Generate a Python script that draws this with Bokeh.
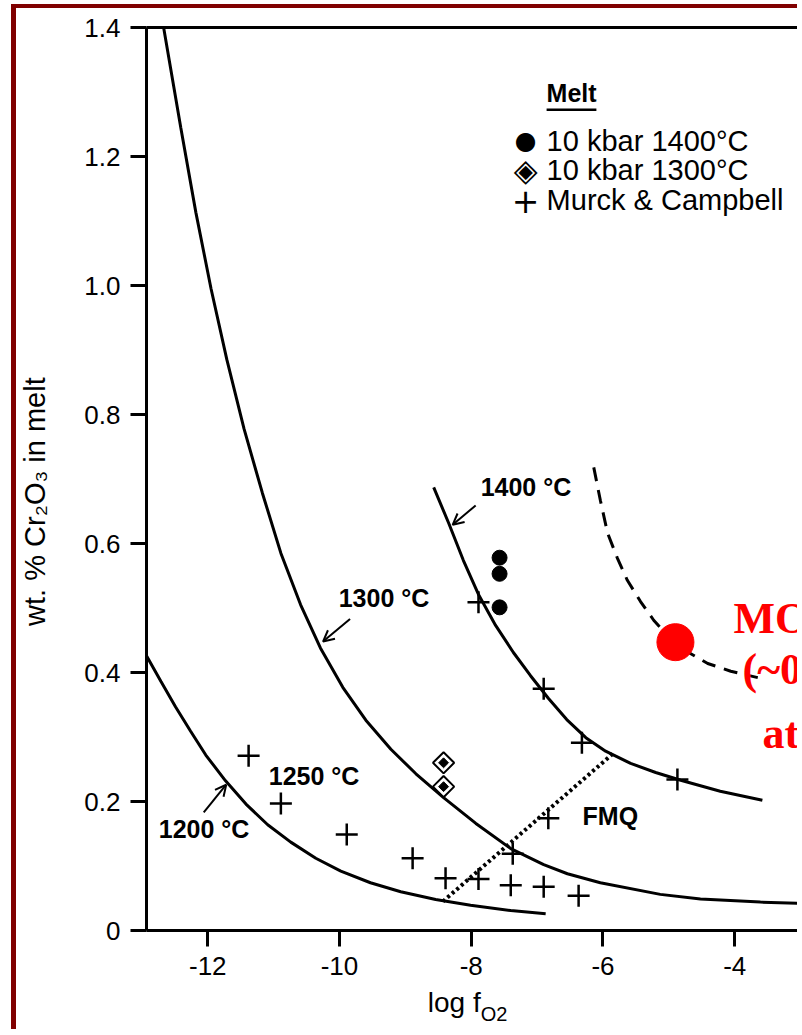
import math
from bokeh.plotting import figure
from bokeh.models import (Range1d, FixedTicker, CustomJSTickFormatter, LinearAxis, Label,
                          Arrow, OpenHead, BoxAnnotation)
from bokeh.embed import file_html
from bokeh.resources import INLINE

# ---------------- data ----------------
x_ticks = [-12, -10, -8, -6, -4]
y_ticks = [0, 0.2, 0.4, 0.6, 0.8, 1.0, 1.2, 1.4]

curve_1200_x = [-12.93, -12.71, -12.49, -12.26, -12.03, -11.73, -11.42, -11.09, -10.74,
                -10.36, -9.98, -9.53, -9.07, -8.54, -8.01, -7.40, -6.87]
curve_1200_y = [0.426, 0.386, 0.347, 0.309, 0.272, 0.232, 0.196, 0.164, 0.137,
                0.112, 0.092, 0.074, 0.060, 0.048, 0.039, 0.031, 0.026]

curve_1300_x = [-12.67, -12.41, -12.18, -11.95, -11.71, -11.45, -11.17, -10.89, -10.59,
                -10.29, -9.95, -9.60, -9.22, -8.84, -8.42, -7.93, -7.40, -6.90, -6.54,
                -6.04, -5.13, -4.52, -3.61, -2.97]
curve_1300_y = [1.400, 1.245, 1.113, 0.995, 0.885, 0.778, 0.678, 0.585, 0.505,
                0.438, 0.377, 0.326, 0.281, 0.243, 0.206, 0.166, 0.127, 0.102, 0.088,
                0.074, 0.056, 0.049, 0.044, 0.042]

curve_1400_x = [-8.57, -8.34, -8.12, -7.89, -7.63, -7.36, -7.10, -6.83, -6.55, -6.26,
                -5.96, -5.58, -5.20, -4.82, -4.22, -3.58]
curve_1400_y = [0.687, 0.631, 0.574, 0.521, 0.473, 0.431, 0.395, 0.360, 0.327, 0.299,
                0.278, 0.259, 0.245, 0.233, 0.216, 0.202]

dashed_x = [-6.14, -6.04, -5.93, -5.78, -5.63, -5.43, -5.23, -5.01, -4.70, -4.41, -4.06, -3.65]
dashed_y = [0.718, 0.667, 0.616, 0.577, 0.543, 0.510, 0.481, 0.456, 0.431, 0.414, 0.402, 0.392]

fmq_x = [-8.43, -5.84]
fmq_y = [0.045, 0.275]

melt1400_x = [-7.57, -7.57, -7.57]
melt1400_y = [0.578, 0.553, 0.501]

melt1300_x = [-8.42, -8.42]
melt1300_y = [0.260, 0.223]

murck_x = [-11.38, -10.89, -9.89, -8.89, -8.39, -7.89, -7.40, -6.90, -6.37, -7.37,
           -6.83, -6.32, -6.90, -7.89, -4.87]
murck_y = [0.271, 0.197, 0.149, 0.112, 0.081, 0.080, 0.070, 0.068, 0.054, 0.119,
           0.174, 0.291, 0.375, 0.509, 0.234]

red_x = [-4.90]
red_y = [0.447]

legend_title = "Melt"
legend_symbols = ["●", "◈", "+"]
legend_labels = ["10 kbar 1400°C", "10 kbar 1300°C", "Murck & Campbell"]

# ---------------- figure ----------------
SANS = "Liberation Sans"
SERIF = "Liberation Serif"
SYM = "'DejaVu Sans', 'Liberation Sans', sans-serif"

p = figure(width=786, height=1025, x_range=Range1d(-12.93, -2.971), y_range=Range1d(0, 1.4),
           output_backend="svg", toolbar_location=None,
           min_border_left=130, min_border_right=0, min_border_top=19, min_border_bottom=103)
p.styles = {"margin-left": "11px", "margin-top": "4px",
            "border-left": "5px solid #800000", "border-top": "4px solid #800000"}
p.xgrid.visible = False
p.ygrid.visible = False
p.outline_line_color = None
p.background_fill_color = "white"
p.border_fill_color = "white"

for ax in (p.xaxis[0], p.yaxis[0]):
    ax.axis_line_width = 3
    ax.axis_line_color = "black"
    ax.major_tick_line_width = 3
    ax.major_tick_line_color = "black"
    ax.major_tick_out = 16
    ax.major_tick_in = 0
    ax.minor_tick_out = 0
    ax.minor_tick_in = 0
    ax.major_label_text_font = SANS
    ax.major_label_text_font_size = "26px"
    ax.major_label_text_color = "black"
    ax.major_label_standoff = 10

p.xaxis[0].ticker = FixedTicker(ticks=x_ticks)
p.xaxis[0].formatter = CustomJSTickFormatter(code="return tick.toFixed(0);")
p.yaxis[0].ticker = FixedTicker(ticks=y_ticks)
p.yaxis[0].formatter = CustomJSTickFormatter(code="return tick == 0 ? '0' : tick.toFixed(1);")

top_axis = LinearAxis(ticker=FixedTicker(ticks=[]), axis_line_width=3, axis_line_color="black",
                      major_tick_out=0, major_tick_in=0, minor_tick_out=0, minor_tick_in=0,
                      major_label_text_font_size="0px")
p.add_layout(top_axis, "above")

# axis titles (placed in the side panels so they are not clipped to the frame)
p.add_layout(Label(x=-14.625, y=0.665, text="wt. % Cr₂O₃ in melt", angle=math.pi / 2,
                   text_font=SANS, text_font_size="29px", text_align="center",
                   text_baseline="middle", text_color="black"), "left")
p.add_layout(Label(x=-7.857, y=-0.135, text="log f", text_font=SANS, text_font_size="28px",
                   text_align="right", text_color="black"), "below")
p.add_layout(Label(x=-7.857, y=-0.147, text="O2", text_font=SANS, text_font_size="20px",
                   text_align="left", text_color="black"), "below")

# curves
p.line(curve_1200_x, curve_1200_y, line_color="black", line_width=3)
p.line(curve_1300_x, curve_1300_y, line_color="black", line_width=3)
p.line(curve_1400_x, curve_1400_y, line_color="black", line_width=3)
p.line(dashed_x, dashed_y, line_color="black", line_width=3, line_dash="14 9")
p.line(fmq_x, fmq_y, line_color="black", line_width=4, line_dash="3 3")

# points
p.scatter(melt1400_x, melt1400_y, marker="circle", size=15,
          fill_color="black", line_color="black")
p.scatter(melt1300_x, melt1300_y, marker="square", angle=math.pi / 4, size=15,
          fill_color="white", line_color="black", line_width=2)
p.scatter(melt1300_x, melt1300_y, marker="square", angle=math.pi / 4, size=7,
          fill_color="black", line_color="black")
p.scatter(murck_x, murck_y, marker="cross", size=22, line_color="black", line_width=2.5)
p.scatter(red_x, red_y, marker="circle", size=37, fill_color="#ff0000", line_color="#ff0000")

# legend (symbol + text lines)
p.add_layout(Label(x=-6.856, y=1.2775, text=legend_title, text_font=SANS, text_font_size="25px",
                   text_font_style="bold", text_color="black"))
p.add_layout(BoxAnnotation(left=-6.856, right=-6.10, bottom=1.2705, top=1.2745,
                           fill_color="black", fill_alpha=1, line_color=None))
sym_sizes = {"●": "25px", "◈": "31px", "+": "33px"}
for i, (sym, lab) in enumerate(zip(legend_symbols, legend_labels)):
    ly = 1.2248 - i * 0.0465
    p.add_layout(Label(x=-7.174, y=ly, text=sym, text_font=SYM, text_font_size=sym_sizes[sym],
                       text_align="center", text_baseline="middle", text_color="black"))
    p.add_layout(Label(x=-6.856, y=ly, text=lab, text_font=SANS, text_font_size="29px",
                       text_align="left", text_baseline="middle", text_color="black"))

# curve labels
for txt, lx, ly in [("1400 °C", -7.857, 0.687), ("1300 °C", -10.012, 0.516),
                    ("1250 °C", -11.074, 0.239), ("1200 °C", -12.744, 0.158),
                    ("FMQ", -6.310, 0.177)]:
    p.add_layout(Label(x=lx, y=ly, text=txt, text_font=SANS, text_font_size="25px",
                       text_font_style="bold", text_baseline="middle", text_color="black"))

# arrows
for xs, ys, xe, ye in [(-7.933, 0.659, -8.282, 0.629), (-9.840, 0.483, -10.250, 0.448),
                       (-12.061, 0.183, -11.720, 0.226)]:
    p.add_layout(Arrow(end=OpenHead(size=11, line_width=2), x_start=xs, y_start=ys,
                       x_end=xe, y_end=ye, line_width=2))

# red text (cut off at right edge of the picture, as in the reference)
for txt, lx, ly in [("MO", -4.018, 0.445), ("(~0", -3.882, 0.367), ("at", -3.578, 0.268)]:
    p.add_layout(Label(x=lx, y=ly, text=txt, text_font=SERIF, text_font_size="44px",
                       text_font_style="bold", text_color="#ff0000"))

open("out.html", "w").write(file_html(p, INLINE))
